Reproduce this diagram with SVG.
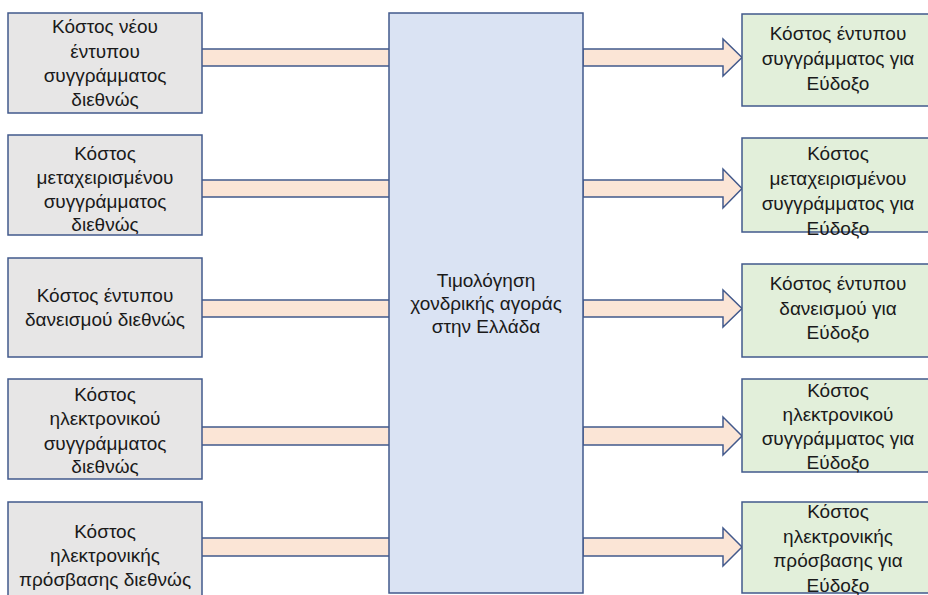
<svg xmlns="http://www.w3.org/2000/svg" width="928" height="595" viewBox="0 0 928 595">
<style>
text{font-family:"Liberation Sans","Noto Sans",Arial,sans-serif;font-size:19px;fill:#1a1a1a;text-anchor:middle}
.src{fill:#e7e6e6;stroke:#42598c;stroke-width:1.5}
.dst{fill:#e2efda;stroke:#42598c;stroke-width:1.5}
.mid{fill:#dae3f3;stroke:#42598c;stroke-width:1.5}
.band{fill:#fbe5d6;stroke:none}
.edge{stroke:#42598c;stroke-width:1.5;fill:none}
.arr{fill:#fbe5d6;stroke:#42598c;stroke-width:1.5;stroke-linejoin:miter}
</style>
<rect width="928" height="595" fill="#ffffff"/>
<g id="connectors">
  <g id="in1"><rect class="band" x="202" y="49" width="188" height="17"/><path class="edge" d="M202 49H390M202 66H390"/></g>
  <g id="in2"><rect class="band" x="202" y="180" width="188" height="17"/><path class="edge" d="M202 180H390M202 197H390"/></g>
  <g id="in3"><rect class="band" x="202" y="300" width="188" height="17"/><path class="edge" d="M202 300H390M202 317H390"/></g>
  <g id="in4"><rect class="band" x="202" y="427" width="188" height="18"/><path class="edge" d="M202 427H390M202 445H390"/></g>
  <g id="in5"><rect class="band" x="202" y="538" width="188" height="18"/><path class="edge" d="M202 538H390M202 556H390"/></g>
  <polygon id="out1" class="arr" points="583,49 723,49 723,39 742,57.5 723,76 723,66 583,66"/>
  <polygon id="out2" class="arr" points="583,180 723,180 723,169 742,188.5 723,208 723,197 583,197"/>
  <polygon id="out3" class="arr" points="583,300 723,300 723,290 742,308.5 723,327 723,317 583,317"/>
  <polygon id="out4" class="arr" points="583,427 723,427 723,417 742,436 723,455 723,445 583,445"/>
  <polygon id="out5" class="arr" points="583,538 723,538 723,528 742,547 723,566 723,556 583,556"/>
</g>
<g id="center">
  <rect class="mid" x="389" y="13" width="194" height="580"/>
  <text x="486" y="287">Τιμολόγηση</text>
  <text x="486" y="310">χονδρικής αγοράς</text>
  <text x="486" y="333">στην Ελλάδα</text>
</g>
<g id="left1">
  <rect class="src" x="8" y="13" width="194" height="100"/>
  <text x="105" y="33">Κόστος νέου</text>
  <text x="105" y="57.5">έντυπου</text>
  <text x="105" y="82">συγγράμματος</text>
  <text x="105" y="106">διεθνώς</text>
</g>
<g id="left2">
  <rect class="src" x="8" y="135" width="194" height="100"/>
  <text x="105" y="160">Κόστος</text>
  <text x="105" y="184">μεταχειρισμένου</text>
  <text x="105" y="207.5">συγγράμματος</text>
  <text x="105" y="231">διεθνώς</text>
</g>
<g id="left3">
  <rect class="src" x="8" y="258" width="194" height="99"/>
  <text x="105" y="302">Κόστος έντυπου</text>
  <text x="105" y="326">δανεισμού διεθνώς</text>
</g>
<g id="left4">
  <rect class="src" x="8" y="379" width="194" height="100"/>
  <text x="105" y="401">Κόστος</text>
  <text x="105" y="425">ηλεκτρονικού</text>
  <text x="105" y="450">συγγράμματος</text>
  <text x="105" y="473">διεθνώς</text>
</g>
<g id="left5">
  <rect class="src" x="8" y="502" width="194" height="100"/>
  <text x="105" y="538">Κόστος</text>
  <text x="105" y="562">ηλεκτρονικής</text>
  <text x="105" y="586">πρόσβασης διεθνώς</text>
</g>
<g id="right1">
  <rect class="dst" x="742" y="14" width="194" height="92"/>
  <text x="838" y="40">Κόστος έντυπου</text>
  <text x="838" y="65">συγγράμματος για</text>
  <text x="838" y="90">Εύδοξο</text>
</g>
<g id="right2">
  <rect class="dst" x="742" y="138" width="194" height="94"/>
  <text x="838" y="160">Κόστος</text>
  <text x="838" y="185">μεταχειρισμένου</text>
  <text x="838" y="210">συγγράμματος για</text>
  <text x="838" y="235">Εύδοξο</text>
</g>
<g id="right3">
  <rect class="dst" x="742" y="264" width="194" height="93"/>
  <text x="838" y="290">Κόστος έντυπου</text>
  <text x="838" y="315">δανεισμού για</text>
  <text x="838" y="339">Εύδοξο</text>
</g>
<g id="right4">
  <rect class="dst" x="742" y="379" width="194" height="93"/>
  <text x="838" y="397">Κόστος</text>
  <text x="838" y="421">ηλεκτρονικού</text>
  <text x="838" y="445">συγγράμματος για</text>
  <text x="838" y="469">Εύδοξο</text>
</g>
<g id="right5">
  <rect class="dst" x="742" y="502" width="194" height="91"/>
  <text x="838" y="518">Κόστος</text>
  <text x="838" y="543">ηλεκτρονικής</text>
  <text x="838" y="567">πρόσβασης για</text>
  <text x="838" y="592">Εύδοξο</text>
</g>
</svg>
